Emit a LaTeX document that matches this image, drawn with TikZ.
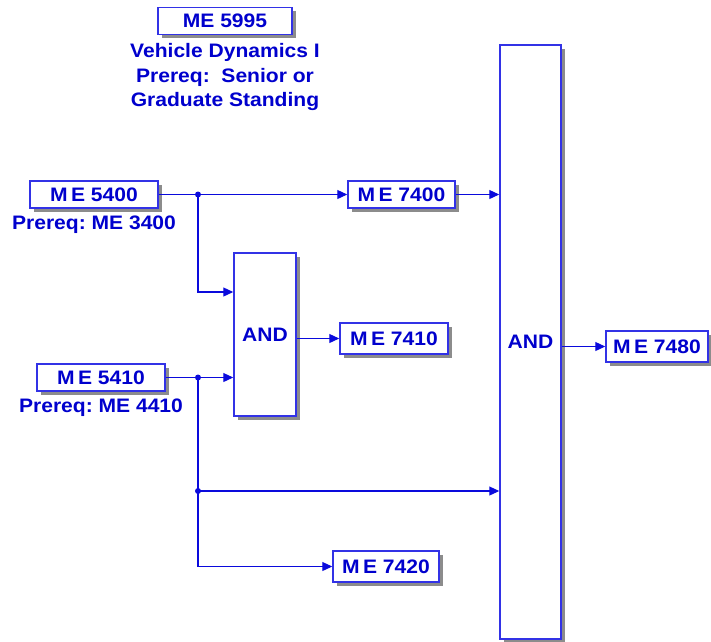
\documentclass[tikz,border=0pt]{standalone}
\usepackage{fontspec}
\setmainfont{Liberation Sans}[FakeStretch=1.08]
\usetikzlibrary{arrows.meta,calc}
\definecolor{txtblue}{RGB}{0,0,205}
\definecolor{lineblue}{RGB}{10,10,220}
\definecolor{boxblue}{RGB}{50,50,230}
\frenchspacing
\begin{document}
\begin{tikzpicture}[x=1pt,y=-1pt,
  course/.style={draw=boxblue, line width=1.5pt, fill=white, inner sep=0pt,
    font=\fontsize{19.5}{21}\selectfont\bfseries, text=txtblue,
    preaction={fill=black!45, transform canvas={shift={(3.5pt,-3.5pt)}}}},
  gate/.style={course},
  note/.style={font=\fontsize{19.5}{24.5}\selectfont\bfseries, text=txtblue, align=center, inner sep=0pt},
  wire/.style={draw=lineblue, line width=1.2pt},
  arr/.style={wire, -{Triangle[length=10pt,width=9pt]}},
  dot/.style={circle, fill=lineblue, inner sep=0pt, minimum size=6pt}
]
\useasboundingbox (0,0) rectangle (711,641);
% courses
\node[course, minimum width=134pt, minimum height=27pt] (m5995) at (225,21) {ME 5995};
\node[note] (t5995) at (225,77) {Vehicle Dynamics I\\Prereq:\ \ Senior or\\Graduate Standing};
\node[course, minimum width=128pt, minimum height=27pt] (m5400) at (94,194.5) {M\,E 5400};
\node[note] (p5400) at (94,225) {Prereq: ME 3400};
\node[course, minimum width=128pt, minimum height=27pt] (m5410) at (101,377.5) {M\,E 5410};
\node[note] (p5410) at (101,408) {Prereq: ME 4410};
\node[course, minimum width=107pt, minimum height=27pt] (m7400) at (401.5,194.5) {M\,E 7400};
\node[course, minimum width=108pt, minimum height=31pt] (m7410) at (394,338.5) {M\,E 7410};
\node[course, minimum width=106pt, minimum height=31pt] (m7420) at (386,566.5) {M\,E 7420};
\node[course, minimum width=102pt, minimum height=31pt] (m7480) at (657,346.5) {M\,E 7480};
% gates
\node[gate, minimum width=62pt, minimum height=163pt] (sand) at (265,334.5) {AND};
\node[gate, minimum width=61pt, minimum height=594pt] (band) at (530.5,342) {AND};
% junctions
\node[dot] (j1) at (198,194.5) {};
\node[dot] (j2) at (198,377.5) {};
\node[dot] (j3) at (198,491) {};
\coordinate (s1) at (sand.west |- 0,292);
\coordinate (b3) at (band.west |- j3);
% connectors
\draw[wire] (m5400.east) -- (j1);
\draw[arr] (j1.center) -- (m7400.west);
\draw[arr] (j1.center) |- (s1);
\draw[arr] (m7400.east) -- (band.west |- m7400.east);
\draw[wire] (m5410.east) -- (j2);
\draw[arr] (j2.center) -- (sand.west |- j2);
\draw[arr] (sand.east |- m7410.west) -- (m7410.west);
\draw[wire] (j2.center) -- (j3.center);
\draw[arr] (j3.center) -- (b3);
\draw[arr] (j3.center) |- (m7420.west);
\draw[arr] (band.east |- m7480.west) -- (m7480.west);
\end{tikzpicture}
\end{document}
